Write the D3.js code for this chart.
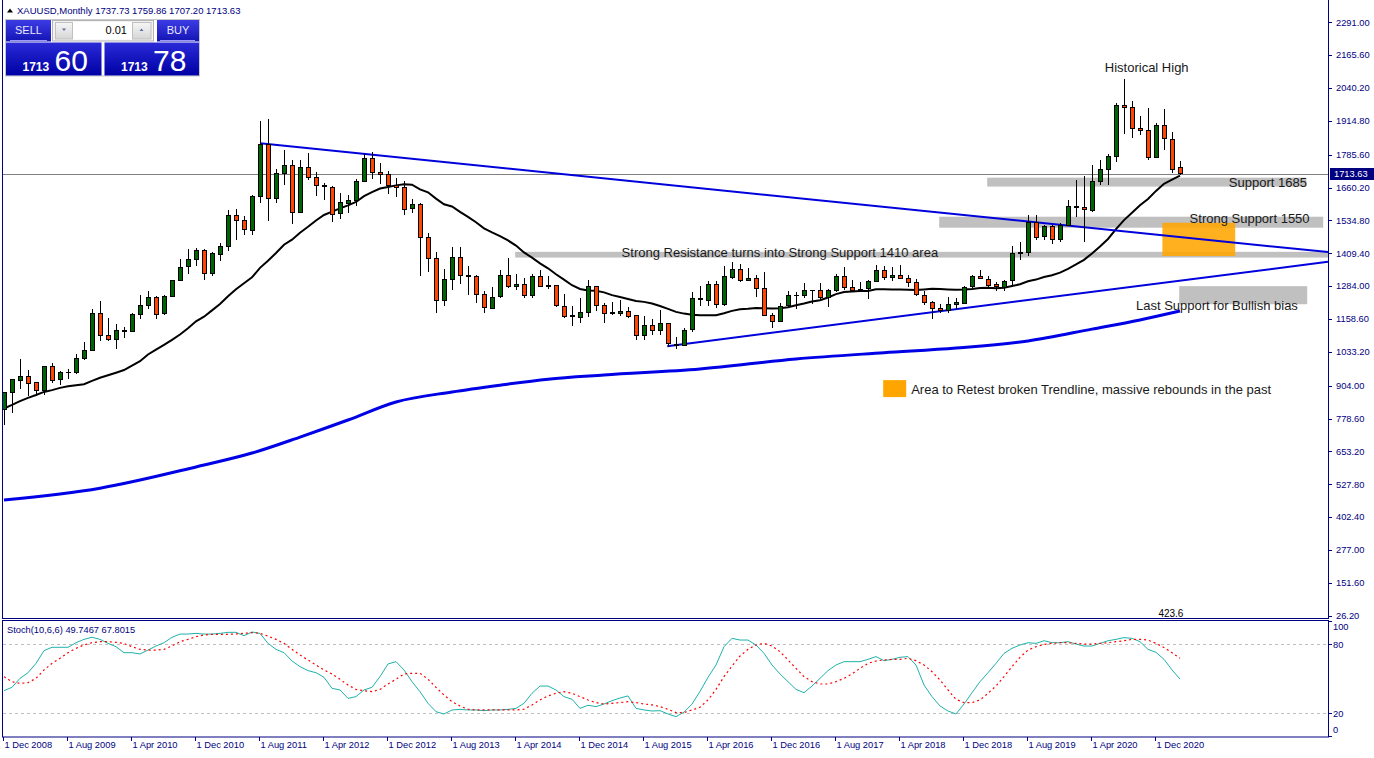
<!DOCTYPE html>
<html lang="en">
<head>
<meta charset="utf-8">
<title>XAUUSD,Monthly</title>
<script src="https://cdnjs.cloudflare.com/ajax/libs/d3/7.8.5/d3.min.js"></script>
<style>
	body { margin: 0; background: #fff; }
	svg { display: block; font-family: "Liberation Sans", Arial, sans-serif; }
	.axis text { fill: #000080; font-size: 9.3px; }
	.note { fill: #1a1a1a; font-size: 13px; }
</style>
</head>
<body>
<div id="chart"></div>
<script>

// monthly bars, Dec 2008 .. Mar 2021
var firstMonth = new Date(2008, 11, 1);

var open = [816,880,928,942,917,887,979,927,955,955,1008,1040,1181,1097,1083,1118,1115,1179,1213,1244,
	1181,1247,1307,1358,1386,1421,1332,1409,1439,1556,1536,1500,1628,1825,1620,1714,1746,1565,1738,1700,
	1669,1664,1561,1604,1614,1687,1773,1719,1713,1670,1663,1580,1597,1472,1393,1234,1313,1396,1327,1323,
	1253,1202,1244,1326,1284,1292,1250,1322,1283,1287,1210,1172,1168,1186,1284,1213,1184,1183,1190,1172,
	1095,1134,1115,1142,1065,1061,1118,1237,1233,1293,1215,1321,1351,1309,1316,1277,1173,1151,1210,1249,
	1249,1268,1268,1242,1269,1322,1280,1270,1275,1303,1345,1318,1325,1315,1298,1252,1224,1200,1192,1215,
	1222,1282,1321,1313,1292,1283,1305,1409,1413,1529,1472,1512,1463,1517,1589,1585,1577,1686,1730,1781,
	1975,1968,1886,1879,1776,1898,1847,1737.73];
var high = [881,919,1006,963,917,980,989,960,966,1024,1070,1195,1227,1162,1141,1127,1180,1249,1265,1245,
	1249,1308,1388,1424,1431,1424,1413,1447,1576,1577,1552,1632,1913,1921,1730,1803,1764,1764,1791,1720,
	1678,1666,1640,1630,1692,1790,1796,1754,1723,1697,1686,1617,1603,1488,1415,1348,1433,1434,1361,1327,
	1267,1280,1345,1392,1331,1315,1332,1345,1323,1290,1255,1208,1238,1308,1285,1220,1224,1232,1205,1175,
	1170,1157,1192,1142,1088,1123,1263,1283,1303,1305,1362,1375,1367,1352,1326,1338,1180,1220,1264,1262,
	1296,1271,1296,1274,1331,1357,1306,1299,1306,1366,1362,1356,1365,1326,1310,1266,1226,1214,1243,1237,
	1284,1326,1347,1324,1300,1306,1439,1452,1555,1557,1517,1516,1524,1611,1689,1704,1747,1765,1789,1984,
	2075,1992,1933,1965,1907,1959,1872,1759.86];
var low = [753,801,890,866,866,868,915,908,930,950,1004,1038,1075,1076,1044,1087,1112,1158,1197,1157,
	1175,1243,1304,1331,1360,1308,1323,1380,1420,1462,1478,1480,1600,1532,1600,1670,1523,1563,1688,1627,
	1612,1527,1540,1564,1591,1687,1693,1672,1635,1626,1555,1563,1322,1339,1180,1208,1270,1291,1251,1221,
	1182,1200,1240,1277,1268,1240,1240,1280,1273,1206,1161,1131,1142,1168,1190,1142,1175,1170,1162,1077,
	1080,1099,1098,1052,1046,1061,1108,1208,1207,1200,1208,1310,1301,1302,1241,1171,1123,1146,1200,1195,
	1240,1214,1236,1205,1262,1271,1260,1264,1236,1302,1307,1303,1310,1281,1246,1211,1160,1180,1182,1196,
	1221,1275,1310,1281,1266,1267,1280,1382,1400,1460,1459,1445,1454,1517,1547,1451,1567,1670,1670,1757,
	1863,1849,1860,1764,1775,1802,1717,1707.20];
var close = [880,928,942,917,887,979,927,955,955,1008,1040,1181,1097,1083,1118,1115,1179,1213,1244,1181,
	1247,1307,1358,1386,1421,1332,1409,1439,1556,1536,1500,1628,1825,1620,1714,1746,1565,1738,1700,1669,
	1664,1561,1604,1614,1687,1773,1719,1713,1670,1663,1580,1597,1472,1393,1234,1313,1396,1327,1323,1253,
	1202,1244,1326,1284,1292,1250,1322,1283,1287,1210,1172,1168,1186,1284,1213,1184,1183,1190,1172,1095,
	1134,1115,1142,1065,1061,1118,1237,1233,1293,1215,1321,1351,1309,1316,1277,1173,1151,1210,1249,1249,
	1268,1268,1242,1269,1322,1280,1270,1275,1303,1345,1318,1325,1315,1298,1252,1224,1200,1192,1215,1222,
	1282,1321,1313,1292,1283,1305,1409,1413,1529,1472,1512,1463,1517,1589,1585,1577,1686,1730,1781,1975,
	1968,1886,1879,1776,1898,1847,1734,1713.63];

// closes May 2007 .. Nov 2008, needed for the first values of the 20 month average
var closesBefore = [659,650,665,673,743,789,783,834,923,972,917,864,887,928,913,833,884,730,815];

// long average (thick blue): [bar, price]
var longMA = [[0,468],[12,513],[24,594],[31,647],[37,708],[43,773],[49,842],[56,880],[62,906],[68,929],
	[75,945],[87,968],[99,1006],[110,1030],[119,1048],[128,1075],[136,1120],[142,1155],[147,1189]];

// Stoch(10,6,6)
var stochMain = [39.7,42.6,50.4,55.3,63.4,74.5,77.4,77.4,77.4,81.4,84.3,86.1,84.3,80.8,77.9,72.7,72.7,71.6,75.0,78.5,
	81.4,86.1,88.9,88.9,89.5,88.9,88.9,89.5,90.4,90.4,87.5,90.7,89.5,80.8,75.6,72.7,65.5,60.6,57.1,55.3,
	51.3,41.7,40.3,33.0,34.5,40.3,42.6,51.9,62.9,64.9,57.7,47.5,38.8,28.7,21.4,19.4,22.9,23.4,22.9,22.9,
	22.3,22.9,22.9,23.4,24.3,28.7,37.4,43.7,43.7,40.3,34.5,32.2,24.3,27.0,25.8,28.1,31.0,33.3,35.1,24.3,
	22.9,22.0,22.3,19.4,17.1,21.0,28.0,39.0,51.3,62.0,77.9,85.2,83.7,83.7,79.4,72.1,62.0,54.2,47.5,40.8,
	37.9,43.7,50.4,57.1,62.0,64.9,64.9,64.9,66.9,69.3,65.8,66.9,68.7,69.3,62.0,44.6,34.5,26.4,22.0,19.4,
	28.1,37.9,47.5,55.3,63.4,72.1,76.5,79.4,81.4,80.8,83.1,81.4,81.4,82.3,80.2,78.5,78.5,80.8,83.1,84.3,
	85.8,85.2,82.3,75.6,73.0,66.9,57.7,49.7467];
var stochSignal = [51.8,47.5,46.0,46.6,50.4,57.7,63.4,67.8,72.7,76.5,79.4,81.4,82.3,82.3,81.7,80.8,77.9,75.6,75.0,75.0,
	75.6,78.5,82.3,84.3,86.6,88.1,88.7,88.7,88.7,89.0,89.5,90.1,89.5,87.2,84.3,80.8,75.6,70.7,66.4,62.0,
	57.7,54.2,49.6,44.6,40.8,39.7,38.8,40.8,45.5,49.6,54.2,54.8,54.8,49.6,42.6,35.9,30.1,26.4,23.5,22.9,
	22.9,22.9,22.9,22.9,22.9,23.5,27.3,31.6,35.1,37.4,38.8,37.4,34.5,31.6,29.3,28.1,28.7,29.3,30.1,29.3,
	28.1,27.3,25.8,23.5,20.6,20.6,22.9,25.2,31.6,40.8,51.9,61.1,69.8,75.6,79.4,80.8,78.5,73.6,66.4,59.1,
	51.9,47.5,45.5,45.5,47.5,50.4,54.2,59.1,63.4,65.5,66.4,66.9,66.9,67.8,65.8,62.0,56.2,48.9,40.3,32.2,
	29.3,29.3,31.6,37.4,43.7,51.9,60.6,68.7,75.0,77.9,79.9,80.8,81.4,81.4,80.8,80.2,80.2,80.8,81.4,82.3,
	83.1,84.3,84.3,83.7,80.8,77.3,72.7,67.8015];

var priceTicks = [2291.00,2165.60,2040.20,1914.80,1785.60,1660.20,1534.80,1409.40,1284.00,1158.60,
	1033.20,904.00,778.60,653.20,527.80,402.40,277.00,151.60,26.20];
var stochTicks = [100, 80, 20, 0];
var stochLevels = [80, 20];
var lastPrice = 1713.63;

// drawn objects: bars and prices
var zones = [
	{from: 122.9, to: 162.8, top: 1698, bottom: 1664},
	{from: 116.9, to: 164.9, top: 1549, bottom: 1507},
	{from: 63.9, to: 165.5, top: 1415, bottom: 1393},
	{from: 146.9, to: 162.9, top: 1284, bottom: 1215}
];
var retestArea = {from: 144.8, to: 153.9, top: 1526, bottom: 1399};
var trendLines = [
	[[32, 1829], [165.5, 1414]],
	[[82.9, 1055], [165.5, 1377]]
];
var notes = [
	{text: "Historical High", at: 137.6, price: 2117},
	{text: "Support 1685", at: 153.1, price: 1681},
	{text: "Strong Support 1550", at: 148.2, price: 1544},
	{text: "Strong Resistance turns into Strong Support 1410 area", at: 77.2, price: 1411},
	{text: "Last Support for Bullish bias", at: 141.5, price: 1212},
	{text: "Area to Retest broken Trendline, massive rebounds in the past", at: 113.4, price: 891}
];

var w = 1374, h = 758;
var right = 1328;

var months = d3.timeMonth.range(firstMonth, d3.timeMonth.offset(firstMonth, close.length));
var fmtDate = d3.timeFormat("%-d %b %Y");

var x = d3.scaleLinear().domain([0, close.length - 1]).range([4, 4 + 8 * (close.length - 1)]);
var y = d3.scaleLinear().domain([26.2, 2291]).range([615.7, 22.3]);
var ys = d3.scaleLinear().domain([0, 100]).range([736.3, 621.3]);

var svg = d3.select("#chart")
	.append("svg")
	.attr("width", w)
	.attr("height", h);

var defs = svg.append("defs");
defs.append("clipPath").attr("id", "mainClip")
	.append("rect").attr("x", 3).attr("y", 0).attr("width", right - 3).attr("height", 618);
defs.append("clipPath").attr("id", "subClip")
	.append("rect").attr("x", 3).attr("y", 621).attr("width", right - 3).attr("height", 116);

function grad(id, c0, c1) {
	var g = defs.append("linearGradient").attr("id", id)
		.attr("x1", 0).attr("y1", 0).attr("x2", 0).attr("y2", 1);
	g.append("stop").attr("offset", "0%").attr("stop-color", c0);
	g.append("stop").attr("offset", "100%").attr("stop-color", c1);
}
grad("blueBtn", "#3c3ce6", "#1414b4");
grad("bluePrice", "#2a2ad8", "#0000a4");
grad("grayBtn", "#f6f6f6", "#d6d6d6");

var main = svg.append("g").attr("clip-path", "url(#mainClip)");

// zones
main.selectAll(".zone")
	.data(zones)
	.enter()
	.append("rect")
	.attr("class", "zone")
	.attr("x", function(d) { return x(d.from); })
	.attr("y", function(d) { return y(d.top); })
	.attr("width", function(d) { return x(d.to) - x(d.from); })
	.attr("height", function(d) { return y(d.bottom) - y(d.top); })
	.attr("fill", "#c0c0c0");

main.append("rect")
	.attr("x", x(retestArea.from))
	.attr("y", y(retestArea.top))
	.attr("width", x(retestArea.to) - x(retestArea.from))
	.attr("height", y(retestArea.bottom) - y(retestArea.top))
	.attr("fill", "#ffa500")
	.attr("opacity", 0.88);

// bid line
main.append("line")
	.attr("x1", 3).attr("x2", right)
	.attr("y1", Math.round(y(lastPrice)) + 0.5).attr("y2", Math.round(y(lastPrice)) + 0.5)
	.attr("stroke", "#808080");

// 20 month simple average of closes
var allCloses = closesBefore.concat(close);
var sma = close.map(function(c, i) {
	return d3.mean(allCloses.slice(i, i + 20));
});

var line = d3.line()
	.x(function(d, i) { return x(i); })
	.y(function(d) { return y(d); });

main.append("path")
	.datum(sma)
	.attr("d", line)
	.attr("fill", "none")
	.attr("stroke", "#000")
	.attr("stroke-width", 2);

main.append("path")
	.datum(longMA)
	.attr("d", d3.line().curve(d3.curveMonotoneX)
		.x(function(d) { return x(d[0]); })
		.y(function(d) { return y(d[1]); }))
	.attr("fill", "none")
	.attr("stroke", "#0000e6")
	.attr("stroke-width", 3);

// trendlines
main.selectAll(".trend")
	.data(trendLines)
	.enter()
	.append("path")
	.attr("class", "trend")
	.attr("d", d3.line()
		.x(function(d) { return x(d[0]); })
		.y(function(d) { return y(d[1]); }))
	.attr("fill", "none")
	.attr("stroke", "#0000dc")
	.attr("stroke-width", 2);

// candles
var bars = main.selectAll(".bar")
	.data(close.map(function(c, i) { return i; }))
	.enter()
	.append("g")
	.attr("class", "bar")
	.attr("shape-rendering", "crispEdges");

bars.append("line")
	.attr("x1", function(i) { return Math.round(x(i)) + 0.5; })
	.attr("x2", function(i) { return Math.round(x(i)) + 0.5; })
	.attr("y1", function(i) { return y(high[i]); })
	.attr("y2", function(i) { return y(low[i]); })
	.attr("stroke", "#000");

bars.filter(function(i) { return open[i] !== close[i]; })
	.append("rect")
	.attr("x", function(i) { return Math.round(x(i)) - 1.5; })
	.attr("y", function(i) { return Math.round(y(Math.max(open[i], close[i]))) + 0.5; })
	.attr("width", 4)
	.attr("height", function(i) { return Math.max(1, Math.round(Math.abs(y(open[i]) - y(close[i])))); })
	.attr("fill", function(i) { return close[i] > open[i] ? "#006400" : "#ff4500"; })
	.attr("stroke", "#000");

bars.filter(function(i) { return open[i] === close[i]; })
	.append("line")
	.attr("x1", function(i) { return Math.round(x(i)) - 2; })
	.attr("x2", function(i) { return Math.round(x(i)) + 3; })
	.attr("y1", function(i) { return Math.round(y(close[i])) + 0.5; })
	.attr("y2", function(i) { return Math.round(y(close[i])) + 0.5; })
	.attr("stroke", "#000");

// notes
main.selectAll(".note")
	.data(notes)
	.enter()
	.append("text")
	.attr("class", "note")
	.attr("x", function(d) { return x(d.at); })
	.attr("y", function(d) { return y(d.price); })
	.attr("dy", "0.35em")
	.text(function(d) { return d.text; });

var legendNote = notes[notes.length - 1];
main.append("rect")
	.attr("x", x(legendNote.at) - 28)
	.attr("y", y(legendNote.price) - 9)
	.attr("width", 23)
	.attr("height", 17)
	.attr("fill", "#ffa500");

main.append("text")
	.attr("x", x(144.3))
	.attr("y", y(33))
	.attr("dy", "0.35em")
	.attr("font-size", "10px")
	.attr("fill", "#000")
	.text("423.6");

// frames
svg.append("rect")
	.attr("x", 2.5).attr("y", -1.5).attr("width", right - 2).attr("height", 620)
	.attr("fill", "none").attr("stroke", "#000080");
svg.append("rect")
	.attr("x", 2.5).attr("y", 620.5).attr("width", right - 2).attr("height", 116.5)
	.attr("fill", "none").attr("stroke", "#000080");

// price axis
var axis = svg.append("g").attr("class", "axis").attr("shape-rendering", "crispEdges");
axis.selectAll(".ptick")
	.data(priceTicks)
	.enter()
	.append("line")
	.attr("x1", right).attr("x2", right + 4)
	.attr("y1", function(d) { return Math.round(y(d)) + 0.5; })
	.attr("y2", function(d) { return Math.round(y(d)) + 0.5; })
	.attr("stroke", "#000080");
axis.selectAll(".plabel")
	.data(priceTicks)
	.enter()
	.append("text")
	.attr("x", right + 8)
	.attr("y", function(d) { return y(d); })
	.attr("dy", "0.35em")
	.text(function(d) { return d.toFixed(2); });

axis.append("rect")
	.attr("x", right + 2).attr("y", y(lastPrice) - 6)
	.attr("width", 44).attr("height", 12)
	.attr("fill", "#000080");
axis.append("text")
	.attr("x", right + 6).attr("y", y(lastPrice))
	.attr("dy", "0.35em")
	.style("fill", "#fff")
	.text(lastPrice.toFixed(2));

// stochastic panel
var sub = svg.append("g").attr("clip-path", "url(#subClip)");
sub.selectAll(".level")
	.data(stochLevels)
	.enter()
	.append("line")
	.attr("x1", 3).attr("x2", right)
	.attr("y1", function(d) { return Math.round(ys(d)) + 0.5; })
	.attr("y2", function(d) { return Math.round(ys(d)) + 0.5; })
	.attr("stroke", "#c0c0c0")
	.attr("stroke-dasharray", "3,3");

var sline = d3.line()
	.x(function(d, i) { return x(i); })
	.y(function(d) { return ys(d); });

sub.append("path")
	.datum(stochMain)
	.attr("d", sline)
	.attr("fill", "none")
	.attr("stroke", "#20b2aa")
	.attr("stroke-width", 1);
sub.append("path")
	.datum(stochSignal)
	.attr("d", sline)
	.attr("fill", "none")
	.attr("stroke", "#ff0000")
	.attr("stroke-width", 1.2)
	.attr("stroke-dasharray", "2,3");

svg.append("text")
	.attr("x", 7).attr("y", 630)
	.attr("dy", "0.35em")
	.attr("font-size", "9.3px")
	.attr("fill", "#000080")
	.text("Stoch(10,6,6) " + stochMain[stochMain.length - 1].toFixed(4) + " " +
		stochSignal[stochSignal.length - 1].toFixed(4));

axis.selectAll(".stick")
	.data(stochTicks)
	.enter()
	.append("line")
	.attr("x1", right).attr("x2", right + 4)
	.attr("y1", function(d) { return Math.round(ys(d)) + 0.5; })
	.attr("y2", function(d) { return Math.round(ys(d)) + 0.5; })
	.attr("stroke", "#000080");
axis.selectAll(".slabel")
	.data(stochTicks)
	.enter()
	.append("text")
	.attr("x", right + 5)
	.attr("y", function(d) { return Math.min(730, Math.max(627, ys(d))); })
	.attr("dy", "0.35em")
	.text(function(d) { return d; });

// time axis
var dateTicks = d3.range(0, close.length, 8);
axis.selectAll(".dtick")
	.data(dateTicks)
	.enter()
	.append("line")
	.attr("x1", function(i) { return Math.round(x(i)) - 0.5; })
	.attr("x2", function(i) { return Math.round(x(i)) - 0.5; })
	.attr("y1", 737).attr("y2", 741)
	.attr("stroke", "#000080");
axis.selectAll(".dlabel")
	.data(dateTicks)
	.enter()
	.append("text")
	.attr("x", function(i) { return x(i) + 0.5; })
	.attr("y", 745)
	.attr("dy", "0.35em")
	.style("fill", "#000080")
	.text(function(i) { return fmtDate(months[i]); });

// header
svg.append("path")
	.attr("d", "M7,12.5 L10,8.5 L13,12.5 Z")
	.attr("fill", "#000");
svg.append("text")
	.attr("x", 17).attr("y", 10.5)
	.attr("dy", "0.35em")
	.attr("font-size", "9.5px")
	.attr("fill", "#000080")
	.text("XAUUSD,Monthly  " + [open, high, low, close].map(function(a) { return a[a.length - 1].toFixed(2); }).join(" "));

// one click trading panel
var tp = svg.append("g");
tp.append("rect").attr("x", 5.5).attr("y", 19.5).attr("width", 194).attr("height", 56.5)
	.attr("fill", "#fff").attr("stroke", "#c8c8c8");
tp.append("rect").attr("x", 6).attr("y", 20).attr("width", 45).attr("height", 21.5).attr("fill", "url(#blueBtn)");
tp.append("rect").attr("x", 157).attr("y", 20).attr("width", 42).attr("height", 21.5).attr("fill", "url(#blueBtn)");
tp.append("line").attr("x1", 10).attr("x2", 47).attr("y1", 40.5).attr("y2", 40.5).attr("stroke", "#9a9aff");
tp.append("line").attr("x1", 160).attr("x2", 195).attr("y1", 40.5).attr("y2", 40.5).attr("stroke", "#9a9aff");
tp.append("text").attr("x", 28.5).attr("y", 30.5).attr("dy", "0.35em").attr("text-anchor", "middle")
	.attr("font-size", "11px").attr("fill", "#e8e8ff").text("SELL");
tp.append("text").attr("x", 178).attr("y", 30.5).attr("dy", "0.35em").attr("text-anchor", "middle")
	.attr("font-size", "11px").attr("fill", "#e8e8ff").text("BUY");
tp.append("rect").attr("x", 52.5).attr("y", 20.5).attr("width", 101).attr("height", 20.5)
	.attr("fill", "#f2f2f2").attr("stroke", "#b4b4b4");
tp.append("rect").attr("x", 55.5).attr("y", 22.5).attr("width", 17).attr("height", 16.5)
	.attr("fill", "url(#grayBtn)").attr("stroke", "#c0c0c0");
tp.append("rect").attr("x", 132.5).attr("y", 22.5).attr("width", 18.5).attr("height", 16.5)
	.attr("fill", "url(#grayBtn)").attr("stroke", "#c0c0c0");
tp.append("rect").attr("x", 73).attr("y", 22).attr("width", 59).attr("height", 17.5).attr("fill", "#fff");
tp.append("path").attr("d", "M62,28.5 L66,28.5 L64,31 Z").attr("fill", "#5a6ea0");
tp.append("path").attr("d", "M139.5,31 L143.5,31 L141.5,28.5 Z").attr("fill", "#5a6ea0");
tp.append("text").attr("x", 127).attr("y", 30.5).attr("dy", "0.35em").attr("text-anchor", "end")
	.attr("font-size", "11px").attr("fill", "#000").text("0.01");

var quotes = [
	{x: 6, w: 95.5, big: "1713", small: "60"},
	{x: 104.5, w: 94.5, big: "1713", small: "78"}
];
var q = tp.selectAll(".quote").data(quotes).enter().append("g");
q.append("rect").attr("x", function(d) { return d.x; }).attr("y", 42.5)
	.attr("width", function(d) { return d.w; }).attr("height", 33).attr("fill", "url(#bluePrice)");
q.append("text").attr("x", function(d) { return d.x + 16.5; }).attr("y", 70.5)
	.attr("font-size", "12px").attr("font-weight", "bold").attr("fill", "#fff")
	.text(function(d) { return d.big; });
q.append("text").attr("x", function(d) { return d.x + 48.5; }).attr("y", 70.5)
	.attr("font-size", "30px").attr("fill", "#fff")
	.text(function(d) { return d.small; });

</script>
</body>
</html>
